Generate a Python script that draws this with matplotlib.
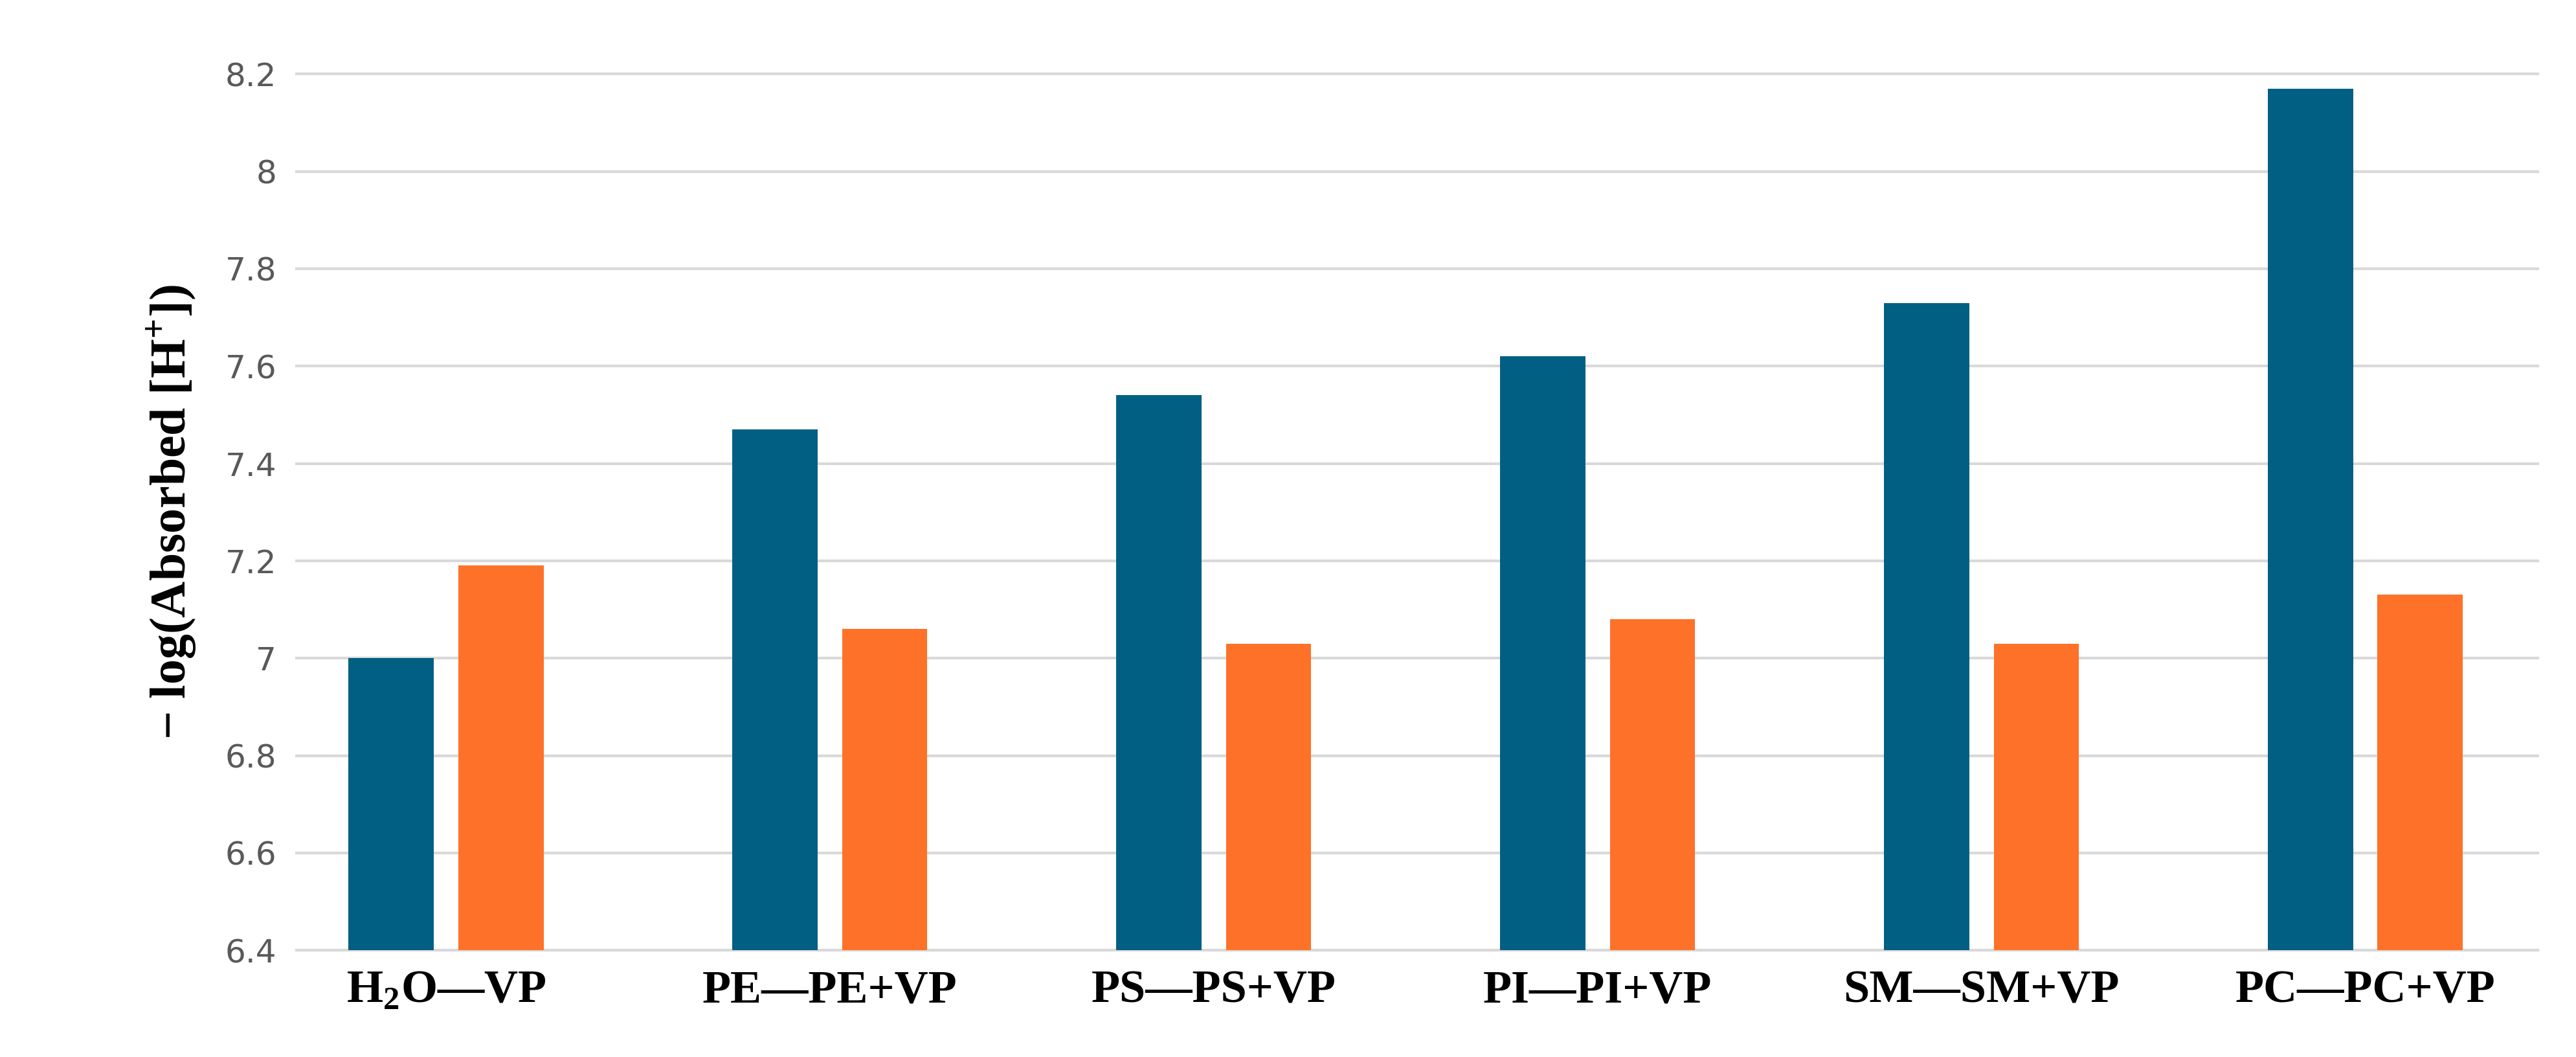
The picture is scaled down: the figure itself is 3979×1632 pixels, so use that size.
import matplotlib
matplotlib.use("Agg")
import matplotlib.pyplot as plt
import numpy as np

categories = ["H$_\\mathbf{2}$O\u2014VP", "PE\u2014PE+VP", "PS\u2014PS+VP", "PI\u2014PI+VP", "SM\u2014SM+VP", "PC\u2014PC+VP"]
blue_vals = [7.00, 7.47, 7.54, 7.62, 7.73, 8.17]
orange_vals = [7.19, 7.06, 7.03, 7.08, 7.03, 7.13]
yticks = [6.4, 6.6, 6.8, 7.0, 7.2, 7.4, 7.6, 7.8, 8.0, 8.2]
ytick_labels = ["6.4", "6.6", "6.8", "7", "7.2", "7.4", "7.6", "7.8", "8", "8.2"]

plt.rcParams["mathtext.fontset"] = "custom"
plt.rcParams["mathtext.rm"] = "Liberation Serif:bold"
plt.rcParams["mathtext.bf"] = "Liberation Serif:bold"

fig = plt.figure(figsize=(39.8, 16.32), dpi=100)
ax = fig.add_axes([0.115, 0.101, 0.87, 0.829])
x = np.arange(len(categories))
w = 0.222
ax.bar(x - 0.143, np.array(blue_vals) - 6.4, w, bottom=6.4, color="#005f83", zorder=3)
ax.bar(x + 0.143, np.array(orange_vals) - 6.4, w, bottom=6.4, color="#fe7128", zorder=3)
ax.set_ylim(6.4, 8.2)
ax.set_xlim(-0.39, 5.45)
ax.set_yticks(yticks)
ax.set_yticklabels(ytick_labels, fontsize=36, color="#595959", family="DejaVu Sans")
ax.yaxis.grid(True, color="#d9d9d9", linewidth=3, zorder=0, clip_on=False)
for gl in ax.get_ygridlines():
    gl.set_clip_on(False)
ax.set_xticks(x)
ax.set_xticklabels(categories, fontsize=52, fontweight="bold", family="Liberation Serif")
ax.tick_params(axis="both", length=0, pad=22)
for s in ["top", "right", "left"]:
    ax.spines[s].set_visible(False)
ax.spines["bottom"].set_color("#d9d9d9")
ax.spines["bottom"].set_linewidth(3)
ax.set_ylabel("\u2212 log(Absorbed [H$^{+}$])", fontsize=56, fontweight="bold", family="Liberation Serif", labelpad=30)
fig.savefig("out.png", dpi=100)
